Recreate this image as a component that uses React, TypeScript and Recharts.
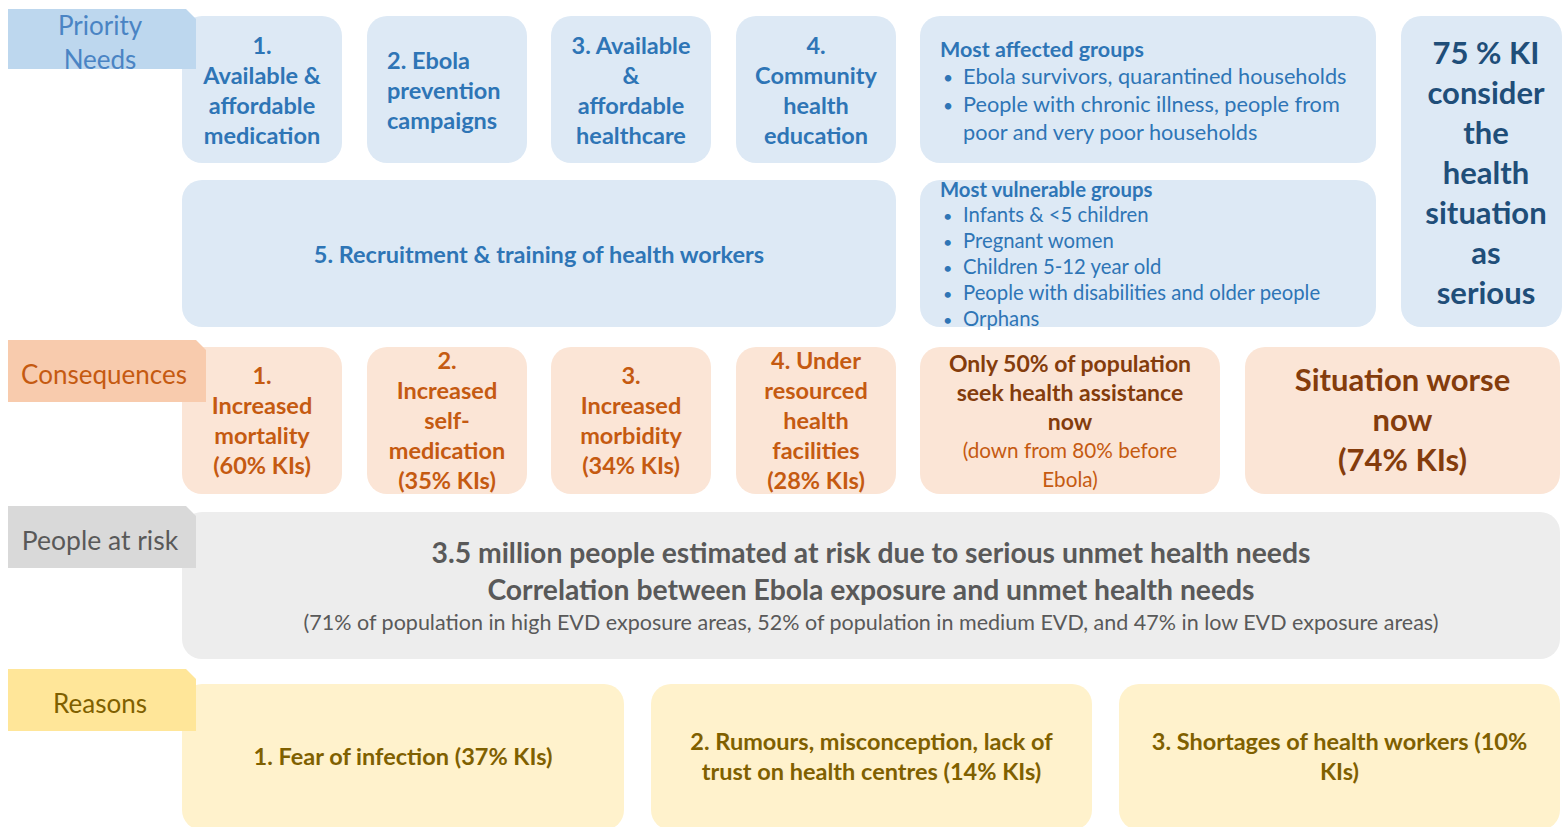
import React from 'react';
import { ComposedChart, XAxis, YAxis, ReferenceArea } from 'recharts';

const W = 1563;
const H = 827;

// ---- content ----
const sectionNames = ['Priority\nNeeds', 'Consequences', 'People at risk', 'Reasons'];
const priorityNeeds = [
  '1.\nAvailable &\naffordable\nmedication',
  '2. Ebola\nprevention\ncampaigns',
  '3. Available\n&\naffordable\nhealthcare',
  '4.\nCommunity\nhealth\neducation',
];
const recruitmentNeed = '5. Recruitment & training of health workers';
const mostAffectedTitle = 'Most affected groups';
const mostAffected = [
  'Ebola survivors, quarantined households',
  'People with chronic illness, people from\npoor and very poor households',
];
const mostVulnerableTitle = 'Most vulnerable groups';
const mostVulnerable = [
  'Infants & <5 children',
  'Pregnant women',
  'Children 5-12 year old',
  'People with disabilities and older people',
  'Orphans',
];
const seriousKI = 75;
const consequenceLabels = [
  '1.\nIncreased\nmortality',
  '2.\nIncreased\nself-\nmedication',
  '3.\nIncreased\nmorbidity',
  '4. Under\nresourced\nhealth\nfacilities',
];
const consequenceKIs = [60, 35, 34, 28];
const seekingNow = 50;
const seekingBefore = 80;
const worseKI = 74;
const atRiskMillions = 3.5;
const exposureLevels = ['high', 'medium', 'low'];
const exposureUnmet = [71, 52, 47];
const reasonLabels = [
  '1. Fear of infection',
  '2. Rumours, misconception, lack of\ntrust on health centres',
  '3. Shortages of health workers',
];
const reasonKIs = [37, 14, 10];

// ---- look ----
const FONT = 'Lato, "Open Sans", sans-serif';

const blue = { tag: '#bdd7ee', box: '#dde9f5', text: '#2e75b6', tagText: '#4a84c4', dark: '#1f4e79' };
const orange = { tag: '#f8cbad', box: '#fbe5d6', text: '#c55a11', dark: '#843c0c' };
const grey = { tag: '#d9d9d9', box: '#ededed', text: '#595959' };
const yellow = { tag: '#ffe699', box: '#fff2cc', text: '#7f6000' };

type Line = { t: string; size: number; bold?: boolean; color: string };

const mk = (text: string, size: number, color: string, bold = true): Line[] =>
  text.split('\n').map((t) => ({ t, size, bold, color }));

function centered(lines: Line[], cx: number, cy: number, lh: number, anchor: 'middle' | 'start' = 'middle') {
  const top = cy - ((lines.length - 1) * lh) / 2;
  return lines.map((l, i) => (
    <text
      key={i}
      x={cx}
      y={top + i * lh + l.size * 0.35}
      textAnchor={anchor}
      fontFamily={FONT}
      fontSize={l.size}
      fontWeight={l.bold ? 700 : 400}
      fill={l.color}
    >
      {l.t}
    </text>
  ));
}

// rounded box, its text drawn by the callback
function box(key: string, x1: number, x2: number, y1: number, y2: number, fill: string, draw: (r: any) => React.ReactNode) {
  return (
    <ReferenceArea
      key={key}
      x1={x1}
      x2={x2}
      y1={y1}
      y2={y2}
      ifOverflow="visible"
      shape={(p: any) => (
        <g>
          <rect x={p.x} y={p.y} width={p.width} height={p.height} rx={20} ry={20} fill={fill} />
          {draw(p)}
        </g>
      )}
    />
  );
}

// section tag, top-right corner cut
function tag(key: string, x1: number, x2: number, y1: number, y2: number, fill: string, lines: Line[], lh: number, cx: number) {
  return (
    <ReferenceArea
      key={key}
      x1={x1}
      x2={x2}
      y1={y1}
      y2={y2}
      ifOverflow="visible"
      shape={(p: any) => {
        const c = 10;
        const d = `M${p.x},${p.y} H${p.x + p.width - c} L${p.x + p.width},${p.y + c} V${p.y + p.height} H${p.x} Z`;
        return (
          <g>
            <path d={d} fill={fill} />
            {centered(lines, cx, p.y + p.height / 2 + 4, lh)}
          </g>
        );
      }}
    />
  );
}

function bulletList(title: Line, items: string[], x: number, y: number, titleGap: number, lh: number, size: number) {
  const rows: { t: string; bullet: boolean }[] = [];
  items.forEach((it) => it.split('\n').forEach((t, j) => rows.push({ t, bullet: j === 0 })));
  return (
    <g>
      <text x={x} y={y + title.size * 0.35} fontFamily={FONT} fontSize={title.size} fontWeight={700} fill={title.color}>
        {title.t}
      </text>
      {rows.map((r, i) => {
        const yy = y + titleGap + i * lh + size * 0.35;
        return (
          <g key={i}>
            {r.bullet && (
              <text x={x + 3} y={yy} fontFamily={FONT} fontSize={size * 0.8} fill={blue.text}>
                •
              </text>
            )}
            <text x={x + 23} y={yy} fontFamily={FONT} fontSize={size} fill={blue.text}>
              {r.t}
            </text>
          </g>
        );
      })}
    </g>
  );
}

const needCols = [
  [182, 342],
  [367, 527],
  [551, 711],
  [736, 896],
];

export default function App() {
  const areas: React.ReactNode[] = [];
  const tags: React.ReactNode[] = [];

  // Priority needs
  tags.push(tag('t0', 8, 196, 9, 69, blue.tag, mk(sectionNames[0], 26, blue.tagText, false), 34, 100));
  priorityNeeds.forEach((n, i) => {
    const [a, b] = needCols[i];
    const left = i === 1;
    areas.push(
      box('n' + i, a, b, 16, 163, blue.box, (p) =>
        centered(mk(n, 23.5, blue.text), left ? p.x + 20 : p.x + p.width / 2, p.y + p.height / 2 + 1, 30, left ? 'start' : 'middle'),
      ),
    );
  });
  areas.push(box('n4', 182, 896, 180, 327, blue.box, (p) => centered(mk(recruitmentNeed, 23.5, blue.text), p.x + p.width / 2, p.y + p.height / 2 + 1, 30)));
  areas.push(
    box('aff', 920, 1376, 16, 163, blue.box, (p) =>
      bulletList({ t: mostAffectedTitle, size: 21.5, bold: true, color: blue.text }, mostAffected, p.x + 20, 49, 27, 28, 21.7),
    ),
  );
  areas.push(
    box('vul', 920, 1376, 180, 327, blue.box, (p) =>
      bulletList({ t: mostVulnerableTitle, size: 20.3, bold: true, color: blue.text }, mostVulnerable, p.x + 20, 190, 25, 26, 20.3),
    ),
  );
  areas.push(
    box('ki', 1401, 1562, 16, 327, blue.box, () =>
      centered(mk(`${seriousKI} % KI\nconsider\nthe\nhealth\nsituation\nas\nserious`, 31, blue.dark), 1486, 173, 40),
    ),
  );

  // Consequences
  tags.push(tag('t1', 8, 206, 340, 402, orange.tag, mk(sectionNames[1], 26, orange.text, false), 30, 104));
  consequenceLabels.forEach((c, i) => {
    const [a, b] = needCols[i];
    const lines = mk(`${c}\n(${consequenceKIs[i]}% KIs)`, 23.5, orange.text);
    areas.push(box('c' + i, a, b, 347, 494, orange.box, (p) => centered(lines, p.x + p.width / 2, p.y + p.height / 2, 30)));
  });
  areas.push(
    box('seek', 920, 1220, 347, 494, orange.box, (p) =>
      centered(
        [
          ...mk(`Only ${seekingNow}% of population\nseek health assistance\nnow`, 23, orange.dark),
          ...mk(`(down from ${seekingBefore}% before\nEbola)`, 20.7, orange.text, false),
        ],
        p.x + p.width / 2,
        p.y + p.height / 2 + 1,
        29,
      ),
    ),
  );
  areas.push(
    box('worse', 1245, 1560, 347, 494, orange.box, (p) =>
      centered(mk(`Situation worse\nnow\n(${worseKI}% KIs)`, 31, orange.dark), p.x + p.width / 2, p.y + p.height / 2, 40),
    ),
  );

  // People at risk
  tags.push(tag('t2', 8, 196, 506, 568, grey.tag, mk(sectionNames[2], 26.5, grey.text, false), 30, 100));
  const exposureText = exposureLevels
    .map((lvl, i) =>
      i === 0
        ? `${exposureUnmet[i]}% of population in ${lvl} EVD exposure areas`
        : i === 1
        ? `${exposureUnmet[i]}% of population in ${lvl} EVD`
        : `and ${exposureUnmet[i]}% in ${lvl} EVD exposure areas`,
    )
    .join(', ');
  areas.push(
    box('risk', 182, 1560, 512, 659, grey.box, () => (
      <g>
        {centered(
          mk(`${atRiskMillions} million people estimated at risk due to serious unmet health needs\nCorrelation between Ebola exposure and unmet health needs`, 28.3, grey.text),
          871,
          571.5,
          37,
        )}
        {centered(mk(`(${exposureText})`, 21.5, grey.text, false), 871, 622, 30)}
      </g>
    )),
  );

  // Reasons
  tags.push(tag('t3', 8, 196, 669, 731, yellow.tag, mk(sectionNames[3], 26, yellow.text, false), 30, 100));
  const reasonCols = [
    [182, 624],
    [651, 1092],
    [1119, 1560],
  ];
  const reasonLines = [
    `${reasonLabels[0]} (${reasonKIs[0]}% KIs)`,
    `${reasonLabels[1]} (${reasonKIs[1]}% KIs)`,
    `${reasonLabels[2]} (${reasonKIs[2]}%\nKIs)`,
  ];
  reasonLines.forEach((r, i) => {
    const [a, b] = reasonCols[i];
    areas.push(box('r' + i, a, b, 684, 830, yellow.box, (p) => centered(mk(r, 23.5, yellow.text), p.x + p.width / 2, 757, 30)));
  });

  return (
    <div style={{ width: W, height: H, background: '#fff' }}>
      <style>{'body{margin:0}'}</style>
      <ComposedChart width={W} height={H} data={[]} margin={{ top: 0, right: 0, bottom: 0, left: 0 }}>
        <XAxis type="number" dataKey="x" domain={[0, W]} hide allowDataOverflow />
        <YAxis type="number" dataKey="y" domain={[0, H]} reversed hide allowDataOverflow />
        {areas}
        {tags}
      </ComposedChart>
    </div>
  );
}
